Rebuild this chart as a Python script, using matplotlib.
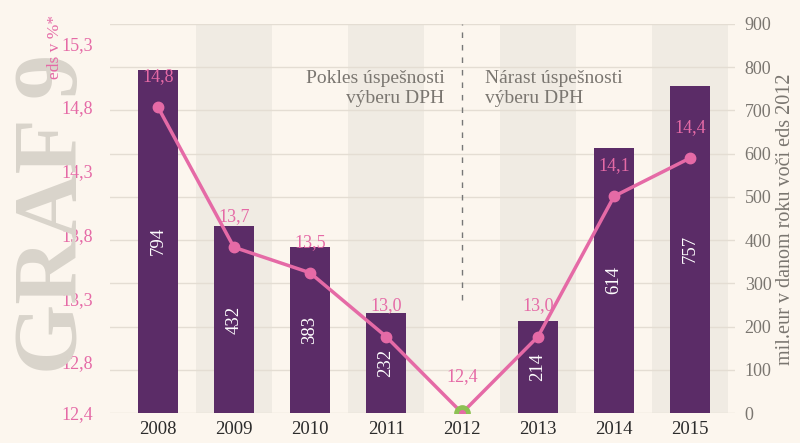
import numpy as np
import matplotlib.pyplot as plt

# data
roky = ['2008', '2009', '2010', '2011', '2012', '2013', '2014', '2015']
mil_eur = [794, 432, 383, 232, 0, 214, 614, 757]
eds = [14.8, 13.7, 13.5, 13.0, 12.4, 13.0, 14.1, 14.4]
eds_ticks = [12.4, 12.8, 13.3, 13.8, 14.3, 14.8, 15.3]

# farby
bg = '#fcf6ee'
pas = '#f0ebe3'
fialova = '#5b2c67'
ruzova = '#e56aa6'
zelena = '#8dc153'
siva = '#7a7670'
mriezka = '#e4ddd3'

plt.rcParams['font.family'] = ['Liberation Serif', 'DejaVu Serif']

fig = plt.figure(figsize=(8, 4.43), dpi=100, facecolor=bg)
ax = fig.add_axes([110/800, 30/443, 625/800, 389/443])
ax.set_facecolor(bg)

x = np.arange(len(roky))

# svetle pasy za kazdym druhym rokom
for i in x[1::2]:
    ax.axvspan(i - 0.5, i + 0.5, color=pas, zorder=0, lw=0)

stlpce = ax.bar(x, mil_eur, width=0.53, color=fialova, zorder=2)
for xi, v in zip(x, mil_eur):
    if v > 0:
        ax.text(xi, v / 2, str(v), rotation=90, ha='center', va='center',
                color='white', fontsize=13.5, zorder=4)

ax.set_xlim(-0.63, 7.59)
ax.set_ylim(0, 900)
ax.set_yticks(range(0, 1000, 100))
ax.set_xticks(x)
ax.set_xticklabels(roky)
ax.tick_params(axis='x', length=0, pad=6, labelsize=13.5, labelcolor='#2b2b2b')
ax.grid(axis='y', color=mriezka, lw=1)
ax.set_axisbelow(True)
for s in ax.spines.values():
    s.set_visible(False)

# prerusovana ciara pri roku 2012
ax.plot([4, 4], [262, 900], ls=(0, (4, 5)), color='#777777', lw=1, zorder=3)
ax.text(3.77, 750, 'Pokles úspešnosti\nvýberu DPH', ha='right', va='center',
        color=siva, fontsize=14, linespacing=1.25, multialignment='right')
ax.text(4.3, 750, 'Nárast úspešnosti\nvýberu DPH', ha='left', va='center',
        color=siva, fontsize=14, linespacing=1.25, multialignment='left')

# ciara eds
ax2 = ax.twinx()
ax2.set_ylim(12.4, 12.4 + 389 / 127.5)
ax2.plot(x, eds, color=ruzova, lw=2.5, marker='o', ms=7.5, zorder=5)
ax2.plot(x[4], eds[4], marker='o', ms=11, color=zelena, zorder=6)
ax2.plot(x[4], eds[4], marker='o', ms=4, color=ruzova, zorder=7)
for xi, v in zip(x, eds):
    off = 22 if v > 12.4 else 26
    ax2.annotate(f'{v:.1f}'.replace('.', ','), (xi, v), xytext=(0, off),
                 textcoords='offset points', ha='center', va='center',
                 color=ruzova, fontsize=13, zorder=8)
ax2.set_yticks(eds_ticks)
ax2.set_yticklabels([f'{t:.1f}'.replace('.', ',') for t in eds_ticks])
for s in ax2.spines.values():
    s.set_visible(False)

# osi: mil. eur vpravo, eds vlavo
ax.yaxis.set_ticks_position('right')
ax.tick_params(axis='y', which='both', left=False, labelleft=False,
               right=False, labelright=True, length=0, pad=7,
               labelsize=13, labelcolor=siva)
ax2.yaxis.set_ticks_position('left')
ax2.tick_params(axis='y', which='both', right=False, labelright=False,
                left=False, labelleft=True, length=0, pad=12,
                labelsize=13, labelcolor=ruzova)

# popisy mimo grafu
fig.text(55/800, 1 - 214/443, 'GRAF 9', rotation=90, ha='center', va='center',
         fontsize=65, fontweight='bold', color='#d9d4cb', zorder=0)
fig.text(55/800, 1 - 47/443, 'eds v %*', rotation=90, ha='center', va='center',
         fontsize=12.5, color=ruzova)
fig.text(785/800, 1 - 219/443, 'mil.eur v danom roku voči eds 2012', rotation=90,
         ha='center', va='center', fontsize=14.5, color=siva)

plt.savefig('out.png', dpi=100, facecolor=bg)
